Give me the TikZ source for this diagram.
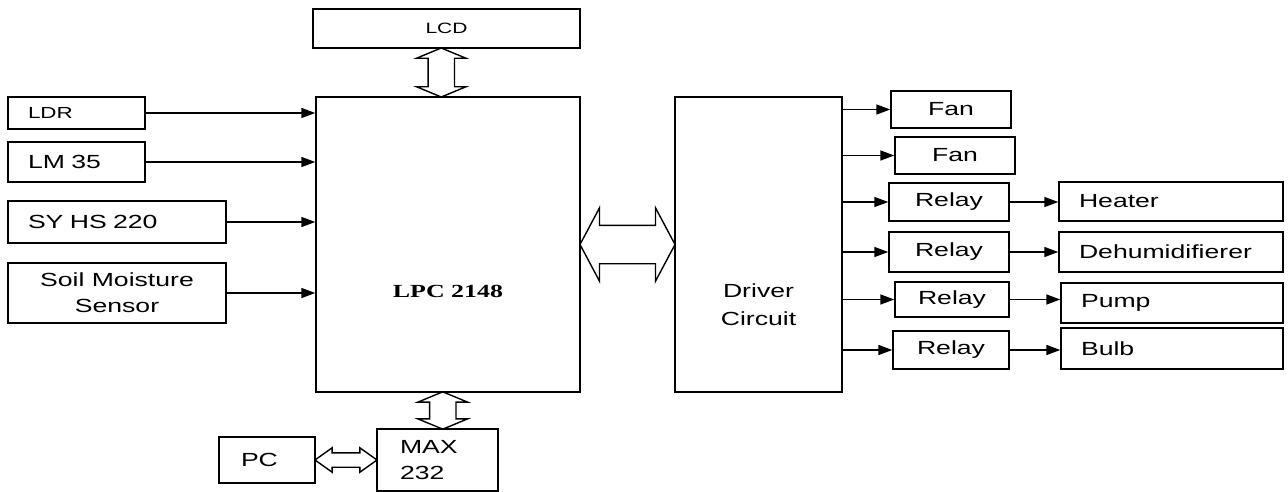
\documentclass[tikz,border=0pt]{standalone}
\usepackage{fontspec}
\setmainfont[FakeStretch=1.4]{Liberation Sans}
\newfontfamily\chipfont[FakeStretch=1.4]{Liberation Serif}
\usetikzlibrary{arrows.meta,shapes.arrows,calc}

\begin{document}
\begin{tikzpicture}[x=1pt,y=-1pt,line width=1.4pt,
  box/.style={draw,inner sep=0pt,font=\fontsize{19}{26}\selectfont},
  lbox/.style={box,align=left,inner xsep=20pt},
  sig/.style={-{Triangle[length=14pt,width=10pt]}},
  bus/.style={double arrow,draw,inner sep=0pt,text width=#1,text height=#1/2,text depth=#1/2}]
\useasboundingbox (0,0) rectangle (1288,492);
\node[box,minimum width=267pt,minimum height=39pt,font=\fontsize{15}{20}\selectfont] (lcd) at (446.5,28.5) {LCD};
\node[box,minimum width=264pt,minimum height=295pt,
  label={[yshift=-47pt,font=\chipfont\bfseries\fontsize{18.5}{22}\selectfont]center:LPC 2148}] (lpc) at (448,244.5) {};
\node[lbox,text width=97pt,minimum height=32pt,font=\fontsize{16}{20}\selectfont] (ldr) at (76.5,113) {LDR};
\node[lbox,text width=97pt,minimum height=40pt] (lm) at (76.5,162) {LM 35};
\node[lbox,text width=178pt,minimum height=42pt] (syhs) at (117,222) {SY HS 220};
\node[box,align=center,minimum width=218pt,minimum height=60pt] (soil) at (117,293) {Soil Moisture\\Sensor};
\draw[sig] (ldr.east) -- (ldr.east -| lpc.west);
\draw[sig] (lm.east) -- (lm.east -| lpc.west);
\draw[sig] (syhs.east) -- (syhs.east -| lpc.west);
\draw[sig] (soil.east) -- (soil.east -| lpc.west);
\node[box,minimum width=167pt,minimum height=295pt,
  label={[yshift=-60pt,align=center,font=\fontsize{19}{28}\selectfont]center:Driver\\Circuit}] (drv) at (758.5,244.5) {};
\node[box,minimum width=120pt,minimum height=37pt] (fan1) at (951,109.5) {Fan};
\node[box,minimum width=120pt,minimum height=37pt] (fan2) at (955,155.5) {Fan};
\node[box,minimum width=120pt,minimum height=38pt] (relay1) at (949,202) {Relay};
\node[box,minimum width=120pt,minimum height=40pt] (relay2) at (949,252) {Relay};
\node[box,minimum width=114pt,minimum height=35pt] (relay3) at (952,299.5) {Relay};
\node[box,minimum width=116pt,minimum height=38pt] (relay4) at (951,350) {Relay};
\node[lbox,text width=184pt,minimum height=39pt] (heater) at (1171,201.5) {Heater};
\node[lbox,text width=184pt,minimum height=40pt] (dehum) at (1171,252) {Dehumidifierer};
\node[lbox,text width=182pt,minimum height=40pt] (pump) at (1172,303) {Pump};
\node[lbox,text width=182pt,minimum height=41pt] (bulb) at (1172,348.5) {Bulb};
\draw[sig] (drv.east |- fan1.west) -- (fan1.west);
\draw[sig] (drv.east |- fan2.west) -- (fan2.west);
\draw[sig] (drv.east |- relay1.west) -- (relay1.west);
\draw[sig] (drv.east |- relay2.west) -- (relay2.west);
\draw[sig] (drv.east |- relay3.west) -- (relay3.west);
\draw[sig] (drv.east |- relay4.west) -- (relay4.west);
\draw[sig] (relay1.east) -- (relay1.east -| heater.west);
\draw[sig] (relay2.east) -- (relay2.east -| dehum.west);
\draw[sig] (relay3.east) -- (relay3.east -| pump.west);
\draw[sig] (relay4.east) -- (relay4.east -| bulb.west);
\node[lbox,inner xsep=23pt,text width=75pt,minimum height=62pt] (max) at (437.5,460) {MAX\\232};
\node[lbox,inner xsep=22pt,text width=52pt,minimum height=46pt] (pc) at (267,460) {PC};
\node[bus=37pt,minimum height=95pt,double arrow head extend=17.5pt,double arrow tip angle=124] (lpcdrv) at ($(lpc.east)!0.5!(drv.west)$) {};
\node[bus=25pt,shape border rotate=90,minimum height=49pt,double arrow head extend=11.5pt,double arrow tip angle=135,xshift=-6pt] (lcdlpc) at ($(lcd.south)!0.5!(lpc.north)$) {};
\node[bus=25pt,shape border rotate=90,minimum height=37pt,double arrow head extend=11.5pt,double arrow tip angle=135] (lpcmax) at ($(lpc.south)!0.5!(max.north)$) {};
\node[bus=13pt,minimum height=62pt,double arrow head extend=5pt,double arrow tip angle=71] (pcmax) at ($(pc.east)!0.5!(max.west)$) {};
\end{tikzpicture}
\end{document}
